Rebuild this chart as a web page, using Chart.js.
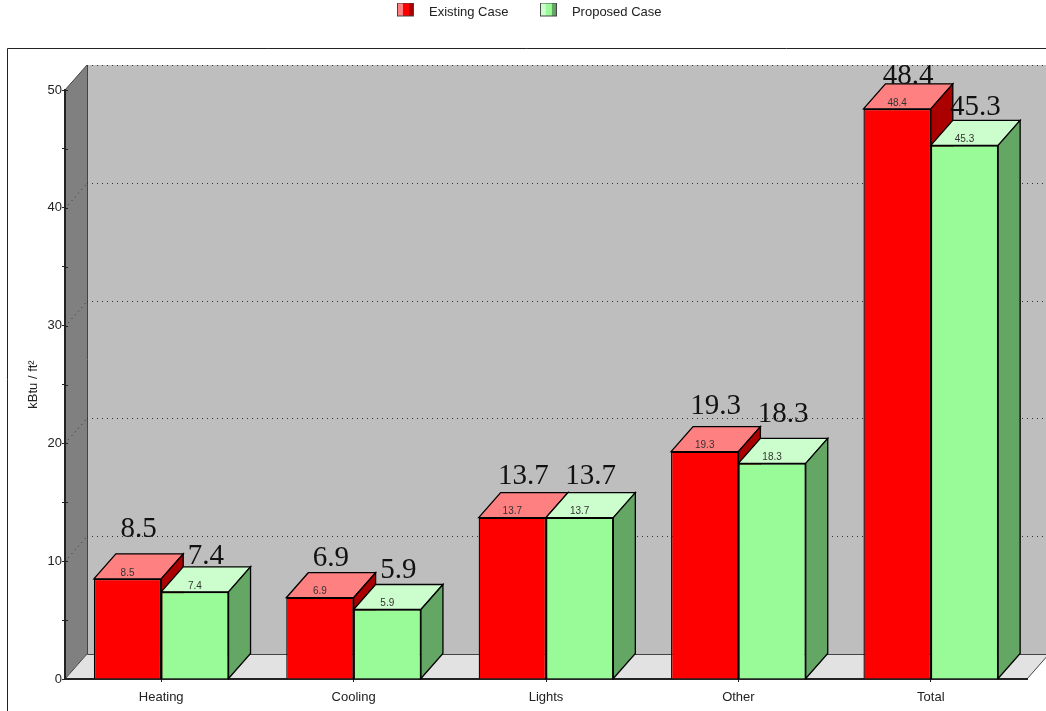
<!DOCTYPE html>
<html>
<head>
<meta charset="utf-8">
<style>
body { margin: 0; background: #fff; }
#wrap { width: 1046px; height: 711px; }
</style>
<script src="https://cdn.jsdelivr.net/npm/chart.js@4"></script>
</head>
<body>
<div id="wrap"><canvas id="chartEnergy" width="1046" height="711"></canvas></div>
<script>
const categories = ["Heating", "Cooling", "Lights", "Other", "Total"];
const seriesNames = ["Existing Case", "Proposed Case"];
const existingCase = [8.5, 6.9, 13.7, 19.3, 48.4];
const proposedCase = [7.4, 5.9, 13.7, 18.3, 45.3];
const majorTicks = [0, 10, 20, 30, 40, 50];

// how far the big labels sit above the back edge of each bar top
const existingLift = [17, 7, 9, 13, 0];
const proposedLift = [3, 6, 9, 16, 5];

const depthX = 22;
const depthY = 25;

// legend swatch, canvas is taller than the box so it sits a bit above the text
function swatch(light, mid, dark) {
    let c = document.createElement("canvas");
    c.width = 17;
    c.height = 20;
    let g = c.getContext("2d");
    g.fillStyle = mid;
    g.fillRect(0, 0, 17, 14);
    g.fillStyle = light;
    g.fillRect(1, 1, 5, 12);
    g.fillStyle = dark;
    g.fillRect(12, 1, 4, 12);
    g.strokeStyle = "#444";
    g.strokeRect(0.5, 0.5, 16, 13);
    return c;
}
const swatches = [swatch("#ff8080", "#ff0000", "#aa0000"), swatch("#ccfdcc", "#98fb98", "#64a664")];

function poly(ctx, pts, fill, stroke) {
    ctx.beginPath();
    pts.forEach((p, i) => i ? ctx.lineTo(p[0], p[1]) : ctx.moveTo(p[0], p[1]));
    ctx.closePath();
    if (fill) {
        ctx.fillStyle = fill;
        ctx.fill();
    }
    if (stroke) {
        ctx.strokeStyle = stroke;
        ctx.stroke();
    }
}

const box3d = {
    id: "box3d",
    afterLayout(chart) {
        chart.legend.top = -17;
        chart.legend.left = 23;
    },
    beforeDraw(chart) {
        let ctx = chart.ctx;
        let a = chart.chartArea;
        let y = chart.scales.y;
        ctx.save();

        // outer frame
        ctx.strokeStyle = "#222";
        ctx.lineWidth = 1;
        ctx.beginPath();
        ctx.moveTo(7.5, 711);
        ctx.lineTo(7.5, 48.5);
        ctx.lineTo(1046, 48.5);
        ctx.stroke();

        // walls and floor
        let backL = a.left + depthX;
        let backR = a.right + depthX;
        let backT = a.top - depthY;
        let backB = a.bottom - depthY;
        poly(ctx, [[backL, backT], [1046, backT], [1046, backB], [backL, backB]], "#bebebe");
        poly(ctx, [[a.left, a.top], [backL, backT], [backL, backB], [a.left, a.bottom]], "#808080");
        poly(ctx, [[a.left, a.bottom], [backL, backB], [backR, backB], [a.right, a.bottom]], "#e2e2e2");

        ctx.strokeStyle = "#444";
        ctx.beginPath();
        ctx.moveTo(backL + 0.5, backT);
        ctx.lineTo(backL + 0.5, backB + 0.5);
        ctx.lineTo(1046, backB + 0.5);
        ctx.moveTo(backL, backB);
        ctx.lineTo(a.left, a.bottom);
        ctx.moveTo(backR, backB);
        ctx.lineTo(a.right, a.bottom);
        ctx.moveTo(a.left, a.top);
        ctx.lineTo(backL, backT);
        ctx.stroke();

        // dotted grid on side wall and back wall
        ctx.strokeStyle = "#333";
        ctx.setLineDash([1, 4]);
        majorTicks.slice(1).forEach(v => {
            let py = Math.round(y.getPixelForValue(v)) - depthY + 0.5;
            ctx.beginPath();
            ctx.moveTo(backL, py);
            ctx.lineTo(1046, py);
            if (v < 50) {
                ctx.moveTo(a.left, py + depthY);
                ctx.lineTo(backL, py);
            }
            ctx.stroke();
        });
        ctx.restore();
    },
    beforeDatasetsDraw(chart) {
        let ctx = chart.ctx;
        ctx.save();

        // bar top and side faces, red first so green covers it
        const faces = [["#ff8080", "#aa0000"], ["#ccfdcc", "#64a664"]];
        ctx.lineWidth = 1.3;
        chart.data.datasets.forEach((ds, i) => {
            chart.getDatasetMeta(i).data.forEach(bar => {
                let l = bar.x - bar.width / 2;
                let r = bar.x + bar.width / 2;
                poly(ctx, [[l, bar.y], [l + depthX, bar.y - depthY], [r + depthX, bar.y - depthY], [r, bar.y]], faces[i][0], "#000");
                poly(ctx, [[r, bar.y], [r + depthX, bar.y - depthY], [r + depthX, bar.base - depthY], [r, bar.base]], faces[i][1], "#000");
            });
        });
        ctx.restore();
    },
    afterDatasetsDraw(chart) {
        let ctx = chart.ctx;
        let a = chart.chartArea;
        let y = chart.scales.y;
        ctx.save();
        ctx.textAlign = "center";

        // value labels: small one on the top face, big one above the box
        const lifts = [existingLift, proposedLift];
        chart.data.datasets.forEach((ds, i) => {
            chart.getDatasetMeta(i).data.forEach((bar, j) => {
                let txt = ds.data[j].toFixed(1);
                ctx.textBaseline = "middle";
                ctx.fillStyle = "#333";
                ctx.font = "10px 'Liberation Sans'";
                ctx.fillText(txt, bar.x, bar.y - 6);
                ctx.textBaseline = "alphabetic";
                ctx.fillStyle = "#111";
                ctx.font = "29px 'Liberation Serif'";
                ctx.fillText(txt, bar.x + depthX / 2, bar.y - depthY - lifts[i][j]);
            });
        });

        // y ticks cross the axis line
        ctx.strokeStyle = "#222";
        ctx.beginPath();
        for (let v = 0; v <= 50; v += 5) {
            let py = Math.round(y.getPixelForValue(v)) + 0.5;
            ctx.moveTo(a.left, py);
            ctx.lineTo(a.left + 3, py);
        }
        ctx.stroke();
        ctx.restore();
    }
};

new Chart(document.getElementById("chartEnergy"), {
    type: "bar",
    plugins: [box3d],
    data: {
        labels: categories,
        datasets: [
            { label: seriesNames[0], data: existingCase, backgroundColor: "#ff0000", borderColor: "#000", borderWidth: 1.3 },
            { label: seriesNames[1], data: proposedCase, backgroundColor: "#98fb98", borderColor: "#000", borderWidth: 1.3 }
        ]
    },
    options: {
        responsive: false,
        animation: false,
        layout: { padding: { top: 44, right: 19, left: 0, bottom: 0 } },
        datasets: { bar: { categoryPercentage: 0.7, barPercentage: 1 } },
        plugins: {
            tooltip: { enabled: false },
            legend: {
                position: "top",
                labels: {
                    usePointStyle: true,
                    pointStyleWidth: 34,
                    padding: 23,
                    color: "#222",
                    font: { family: "'Liberation Sans'", size: 13 },
                    generateLabels(chart) {
                        let items = Chart.defaults.plugins.legend.labels.generateLabels(chart);
                        items.forEach((it, i) => { it.pointStyle = swatches[i]; });
                        return items;
                    }
                }
            }
        },
        scales: {
            x: {
                afterFit(scale) { scale.height = 32; },
                grid: { drawOnChartArea: false, tickLength: 3, color: "#222", offset: false },
                border: { color: "#222", width: 2 },
                ticks: { color: "#222", padding: 8, maxRotation: 0, font: { family: "'Liberation Sans'", size: 13 } }
            },
            y: {
                min: 0,
                max: 50,
                afterFit(scale) { scale.width = 65; },
                afterBuildTicks(scale) {
                    scale.ticks = [];
                    for (let v = 50; v >= 0; v -= 5) scale.ticks.push({ value: v });
                },
                grid: { drawOnChartArea: false, tickLength: 3, color: "#222" },
                border: { color: "#222", width: 2 },
                title: {
                    display: true,
                    text: "kBtu / ft²",
                    color: "#222",
                    padding: { top: 26, bottom: 0 },
                    font: { family: "'Liberation Sans'", size: 13 }
                },
                ticks: {
                    color: "#222",
                    padding: 0,
                    autoSkip: false,
                    font: { family: "'Liberation Sans'", size: 13 },
                    callback: v => majorTicks.includes(v) ? String(v) : ""
                }
            }
        }
    }
});
</script>
</body>
</html>
